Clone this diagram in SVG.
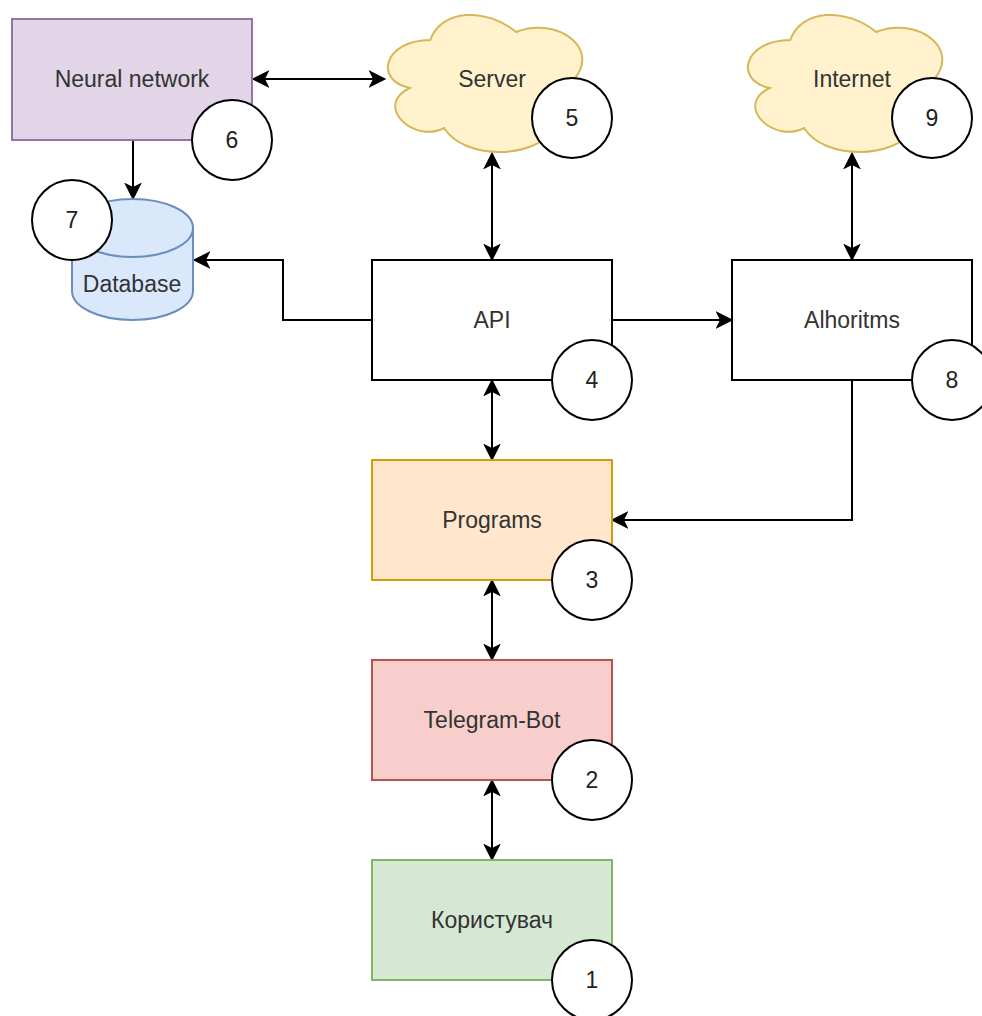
<svg xmlns="http://www.w3.org/2000/svg" xmlns:xlink="http://www.w3.org/1999/xlink" width="982" height="1016" viewBox="0 0 982 1016">
<style>
.lbl{font-family:"Liberation Sans",Arial,sans-serif;font-size:23px;fill:#333333;text-anchor:middle;dominant-baseline:central}
.num{font-family:"Liberation Sans",Arial,sans-serif;font-size:23px;fill:#222222;text-anchor:middle;dominant-baseline:central}
.badge{fill:#ffffff;stroke:#000000;stroke-width:2}
.conn{fill:none;stroke:#000000;stroke-width:2}
.cloud{fill:#fff2cc;stroke:#d6b656;stroke-width:2}
</style>
<defs>
<marker id="arr" markerUnits="userSpaceOnUse" markerWidth="20" markerHeight="20" viewBox="0 -9 18 18" refX="4" refY="0" orient="auto-start-reverse">
<path d="M0,-8 L16,0 L0,8 L4,0 Z" fill="#000000"/>
</marker>
<path id="cloudShape" d="M57.25,40 C11.45,40 0,80 36.64,88 C0,105.6 41.22,144 70.99,128 C91.6,160 160.3,160 183.2,128 C229,128 229,96 200.38,80 C229,48 183.2,16 143.13,32 C114.5,8 68.7,8 57.25,40 Z"/>
</defs>
<rect width="982" height="1016" fill="#ffffff"/>
<g id="connectors">
<path class="conn" d="M265,79 H373" marker-start="url(#arr)" marker-end="url(#arr)"/>
<path class="conn" d="M133,140 V187" marker-end="url(#arr)"/>
<path class="conn" d="M372,320 H283 V260 H206" marker-end="url(#arr)"/>
<path class="conn" d="M492,165 V248" marker-start="url(#arr)" marker-end="url(#arr)"/>
<path class="conn" d="M852,165 V248" marker-start="url(#arr)" marker-end="url(#arr)"/>
<path class="conn" d="M612,320 H720" marker-end="url(#arr)"/>
<path class="conn" d="M852,380 V520 H624" marker-end="url(#arr)"/>
<path class="conn" d="M492,392 V448" marker-start="url(#arr)" marker-end="url(#arr)"/>
<path class="conn" d="M492,592 V648" marker-start="url(#arr)" marker-end="url(#arr)"/>
<path class="conn" d="M492,792 V848" marker-start="url(#arr)" marker-end="url(#arr)"/>
</g>
<g id="neural-network">
<rect x="12" y="19" width="240" height="121" fill="#e1d5e7" stroke="#9673a6" stroke-width="2"/>
<text class="lbl" x="132" y="79">Neural network</text>
</g>
<g id="database">
<path d="M72,228 V291 A60.5,29 0 0 0 193,291 V228" fill="#dae8fc" stroke="#6c8ebf" stroke-width="2"/>
<ellipse cx="132.5" cy="228" rx="60.5" ry="29" fill="#dae8fc" stroke="#6c8ebf" stroke-width="2"/>
<text class="lbl" x="132" y="284">Database</text>
</g>
<g id="server">
<use xlink:href="#cloudShape" class="cloud" x="373" y="0"/>
<text class="lbl" x="492" y="79">Server</text>
</g>
<g id="internet">
<use xlink:href="#cloudShape" class="cloud" x="733" y="0"/>
<text class="lbl" x="852" y="79">Internet</text>
</g>
<g id="api">
<rect x="372" y="260" width="240" height="120" fill="#ffffff" stroke="#000000" stroke-width="2"/>
<text class="lbl" x="492" y="320">API</text>
</g>
<g id="alhoritms">
<rect x="732" y="260" width="240" height="120" fill="#ffffff" stroke="#000000" stroke-width="2"/>
<text class="lbl" x="852" y="320">Alhoritms</text>
</g>
<g id="programs">
<rect x="372" y="460" width="240" height="120" fill="#ffe6cc" stroke="#d79b00" stroke-width="2"/>
<text class="lbl" x="492" y="520">Programs</text>
</g>
<g id="telegram-bot">
<rect x="372" y="660" width="240" height="120" fill="#f8cecc" stroke="#b85450" stroke-width="2"/>
<text class="lbl" x="492" y="720">Telegram-Bot</text>
</g>
<g id="user">
<rect x="372" y="860" width="240" height="120" fill="#d5e8d4" stroke="#82b366" stroke-width="2"/>
<text class="lbl" x="492" y="920">Користувач</text>
</g>
<g id="badge-1"><circle class="badge" cx="592" cy="980" r="40"/><text class="num" x="592" y="980">1</text></g>
<g id="badge-2"><circle class="badge" cx="592" cy="780" r="40"/><text class="num" x="592" y="780">2</text></g>
<g id="badge-3"><circle class="badge" cx="592" cy="580" r="40"/><text class="num" x="592" y="580">3</text></g>
<g id="badge-4"><circle class="badge" cx="592" cy="380" r="40"/><text class="num" x="592" y="380">4</text></g>
<g id="badge-5"><circle class="badge" cx="572" cy="118" r="40"/><text class="num" x="572" y="118">5</text></g>
<g id="badge-6"><circle class="badge" cx="232" cy="140" r="40"/><text class="num" x="232" y="140">6</text></g>
<g id="badge-7"><circle class="badge" cx="72" cy="220" r="40"/><text class="num" x="72" y="220">7</text></g>
<g id="badge-8"><circle class="badge" cx="952" cy="380" r="40"/><text class="num" x="952" y="380">8</text></g>
<g id="badge-9"><circle class="badge" cx="932" cy="118" r="40"/><text class="num" x="932" y="118">9</text></g>
</svg>
